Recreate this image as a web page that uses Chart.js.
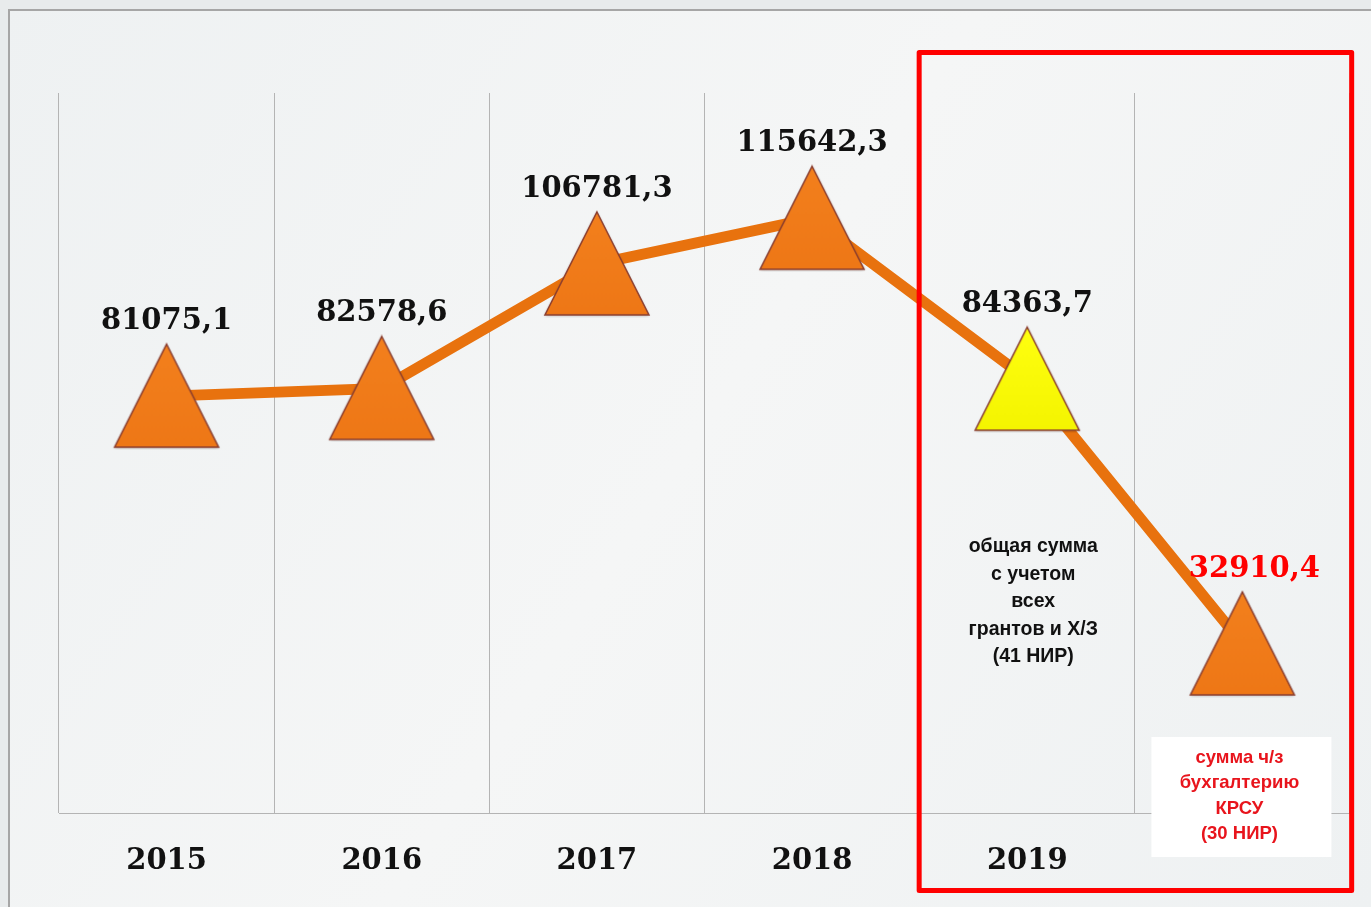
<!DOCTYPE html>
<html>
<head>
<meta charset="utf-8">
<script src="https://cdn.jsdelivr.net/npm/chart.js@4"></script>
<style>
  html, body { margin: 0; padding: 0; background: #eceeef; overflow: hidden; }
  #wrap { width: 1371px; height: 907px; }
  canvas { display: block; }
</style>
</head>
<body>
<div id="wrap"><canvas id="grafico" width="1371" height="907"></canvas></div>
<script>
var anios = ['2015', '2016', '2017', '2018', '2019', ''];
var valores = [81075.1, 82578.6, 106781.3, 115642.3, 84363.7, 32910.4];
var etiquetas = ['81075,1', '82578,6', '106781,3', '115642,3', '84363,7', '32910,4'];
var notaTotal = ['общая сумма', 'с учетом', 'всех', 'грантов и Х/З', '(41 НИР)'];
var notaKrsu = ['сумма ч/з', 'бухгалтерию', 'КРСУ', '(30 НИР)'];

function crearTriangulo(claro, oscuro) {
    var c = document.createElement('canvas');
    c.width = 110; c.height = 108;
    var ctx = c.getContext('2d');
    var g = ctx.createLinearGradient(0, 0, 0, 108);
    g.addColorStop(0, claro);
    g.addColorStop(1, oscuro);
    ctx.shadowColor = 'rgba(0,0,0,0.25)';
    ctx.shadowBlur = 3;
    ctx.shadowOffsetY = 1;
    ctx.beginPath();
    ctx.moveTo(55, 2);
    ctx.lineTo(107, 105);
    ctx.lineTo(3, 105);
    ctx.closePath();
    ctx.fillStyle = g;
    ctx.fill();
    ctx.shadowColor = 'transparent';
    ctx.lineWidth = 1.5;
    ctx.strokeStyle = '#8a3d2e';
    ctx.stroke();
    return c;
}

var triNaranja = crearTriangulo('#f3801d', '#ee7716');
var triAmarillo = crearTriangulo('#ffff10', '#f4f400');
var estilos = [triNaranja, triNaranja, triNaranja, triNaranja, triAmarillo, triNaranja];

var fondo = {
    id: 'fondo',
    beforeDraw: function (chart) {
        var ctx = chart.ctx;
        ctx.save();
        ctx.fillStyle = '#e8ebec';
        ctx.fillRect(0, 0, chart.width, chart.height);
        var g = ctx.createLinearGradient(0, 0, chart.width, chart.height);
        g.addColorStop(0, '#eef1f2');
        g.addColorStop(0.5, '#f5f6f6');
        g.addColorStop(1, '#eef1f2');
        ctx.fillStyle = g;
        ctx.fillRect(9, 10, chart.width, chart.height);
        ctx.strokeStyle = '#a6a6a6';
        ctx.lineWidth = 2;
        ctx.beginPath();
        ctx.moveTo(9, chart.height);
        ctx.lineTo(9, 10);
        ctx.lineTo(chart.width, 10);
        ctx.stroke();
        ctx.restore();
    }
};

var rotulos = {
    id: 'rotulos',
    afterDatasetsDraw: function (chart) {
        var ctx = chart.ctx;
        var x = chart.scales.x;
        var pts = chart.getDatasetMeta(0).data;
        ctx.save();

        // recuadro rojo de 2019 y el ultimo punto
        var paso = x.getPixelForValue(1) - x.getPixelForValue(0);
        var x0 = x.getPixelForValue(4) - paso / 2;
        ctx.strokeStyle = '#ff0000';
        ctx.lineWidth = 5;
        ctx.lineJoin = 'round';
        ctx.strokeRect(x0 - 0.5, 52.5, 432.5, 838);

        // valores
        ctx.textAlign = 'center';
        ctx.textBaseline = 'alphabetic';
        ctx.font = 'bold 29px "DejaVu Serif"';
        pts.forEach(function (p, i) {
            var ult = i === pts.length - 1;
            ctx.fillStyle = ult ? '#ff0000' : '#111111';
            ctx.fillText(etiquetas[i], p.x + (ult ? 12 : 0), p.y - 67);
        });

        // nota 2019
        ctx.font = 'bold 19.5px "Liberation Sans"';
        ctx.fillStyle = '#111111';
        ctx.textBaseline = 'middle';
        var cx = pts[4].x + 6;
        notaTotal.forEach(function (t, i) {
            ctx.fillText(t, cx, 547 + i * 27.5);
        });

        // nota KRSU
        ctx.font = 'bold 18.5px "Liberation Sans"';
        var bx = pts[5].x - 91;
        ctx.fillStyle = '#ffffff';
        ctx.fillRect(bx, 737, 180, 120);
        ctx.fillStyle = '#e8141c';
        notaKrsu.forEach(function (t, i) {
            ctx.fillText(t, pts[5].x - 3, 758 + i * 25.3);
        });
        ctx.restore();
    }
};

new Chart(document.getElementById('grafico'), {
    type: 'line',
    data: {
        labels: anios,
        datasets: [{
            data: valores,
            borderColor: '#e8720e',
            borderWidth: 11,
            tension: 0,
            pointStyle: estilos,
            pointRadius: 10,
            pointHoverRadius: 10
        }]
    },
    options: {
        responsive: false,
        animation: false,
        events: [],
        layout: { padding: { left: 59, right: 13, top: 93, bottom: -3 } },
        plugins: { legend: { display: false }, tooltip: { enabled: false } },
        scales: {
            x: {
                offset: true,
                afterFit: function (s) { s.paddingLeft = 0; s.paddingRight = 0; },
                grid: { offset: true, color: '#b4b4b4', lineWidth: 1, drawTicks: false },
                border: { color: '#b4b4b4', width: 1 },
                ticks: { padding: 31, color: '#111111', font: { family: 'DejaVu Serif', weight: 'bold', size: 29 } }
            },
            y: { display: false, min: 0, max: 140000 }
        }
    },
    plugins: [fondo, rotulos]
});
</script>
</body>
</html>
